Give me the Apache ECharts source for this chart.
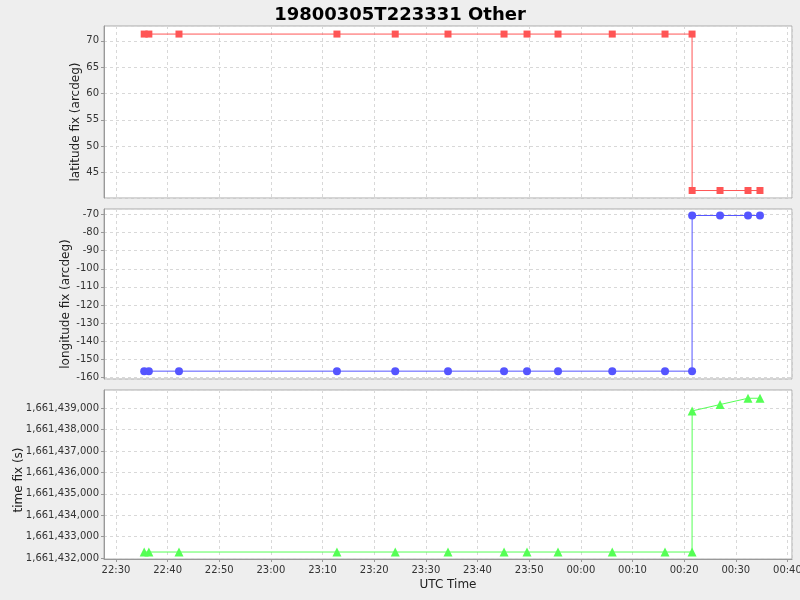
<!DOCTYPE html>
<html>
<head>
<meta charset="utf-8">
<script src="https://cdn.jsdelivr.net/npm/echarts@6/dist/echarts.min.js"></script>
<style>
html,body{margin:0;padding:0;background:#eeeeee;}
#chart{width:800px;height:600px;}
</style>
</head>
<body>
<div id="chart"></div>
<script>
const titleText = '19800305T223331 Other';
const utcTimes = [
  '1980-03-05T22:35:28Z','1980-03-05T22:36:22Z','1980-03-05T22:42:12Z','1980-03-05T23:12:47Z',
  '1980-03-05T23:24:04Z','1980-03-05T23:34:17Z','1980-03-05T23:45:08Z','1980-03-05T23:49:35Z',
  '1980-03-05T23:55:35Z','1980-03-06T00:06:05Z','1980-03-06T00:16:18Z','1980-03-06T00:21:32Z',
  '1980-03-06T00:21:33Z','1980-03-06T00:26:57Z','1980-03-06T00:32:22Z','1980-03-06T00:34:41Z'
];
const latitudeFix = [71.27,71.27,71.27,71.27,71.27,71.27,71.27,71.27,71.27,71.27,71.27,71.27,41.58,41.58,41.58,41.58];
const longitudeFix = [-156.6,-156.6,-156.6,-156.6,-156.6,-156.6,-156.6,-156.6,-156.6,-156.6,-156.6,-156.6,-70.5,-70.5,-70.5,-70.5];
const timeFix = [1661432279,1661432279,1661432279,1661432279,1661432279,1661432279,1661432279,1661432279,1661432279,1661432279,1661432279,1661432279,1661438874,1661439172,1661439466,1661439466];
const xRange = ['1980-03-05T22:27:41Z','1980-03-06T00:40:53Z'];
const latRange = [40.16, 72.80];
const lonRange = [-160.94, -66.91];
const timeRange = [1661431953, 1661439852];
const xAxisName = 'UTC Time';
const yNames = ['latitude fix (arcdeg)','longitude fix (arcdeg)','time fix (s)'];

const tms = utcTimes.map(s => Date.parse(s));
const pair = (arr) => tms.map((t, i) => [t, arr[i]]);
const pad = n => (n < 10 ? '0' : '') + n;
const fmtTime = v => { const d = new Date(v); return pad(d.getUTCHours()) + ':' + pad(d.getUTCMinutes()); };

const FONT = 'DejaVu Sans';
const gridLine = { show: true, lineStyle: { color: '#d8d8d8', type: [3, 3], width: 1 } };
const grids = [
  { left: 104, width: 688, top: 26, height: 172 },
  { left: 104, width: 688, top: 209, height: 170 },
  { left: 104, width: 688, top: 390, height: 169 }
].map(g => Object.assign(g, { show: true, containLabel: false, outerBoundsMode: 'none', backgroundColor: '#ffffff', borderColor: '#aaaaaa', borderWidth: 1 }));

function xAx(i) {
  const last = i === 2;
  return {
    type: 'value', gridIndex: i,
    min: Date.parse(xRange[0]), max: Date.parse(xRange[1]),
    minInterval: 600000, maxInterval: 600000,
    name: last ? xAxisName : '', nameLocation: 'middle', nameGap: 20, nameMoveOverlap: false,
    nameTextStyle: { fontFamily: FONT, fontSize: 12, color: '#222' },
    axisLine: { show: last, lineStyle: { color: '#999999' } },
    axisTick: { show: last, length: 3, inside: false, lineStyle: { color: '#999999' } },
    axisLabel: { show: last, formatter: fmtTime, fontFamily: FONT, fontSize: 10, color: '#333', margin: 6, showMinLabel: false, showMaxLabel: false },
    splitLine: gridLine
  };
}
function yAx(i, range, step, fmt, gap, shift) {
  return {
    type: 'value', gridIndex: i, min: range[0], max: range[1],
    minInterval: step, maxInterval: step,
    name: yNames[i], nameLocation: 'middle', nameGap: gap, nameMoveOverlap: false,
    nameTextStyle: { fontFamily: FONT, fontSize: 12, color: '#222', padding: [0, shift, 0, 0] },
    axisLine: { show: true, lineStyle: { color: '#999999' } },
    axisTick: { show: true, length: 3, lineStyle: { color: '#999999' } },
    axisLabel: { formatter: fmt, fontFamily: FONT, fontSize: 10, color: '#333', margin: 5, showMinLabel: false, showMaxLabel: false },
    splitLine: gridLine
  };
}
function ser(i, arr, color, symbol, size) {
  return {
    type: 'line', xAxisIndex: i, yAxisIndex: i, data: pair(arr),
    symbol: symbol, symbolSize: size, showAllSymbol: true,
    itemStyle: { color: color }, lineStyle: { color: color, width: 1 },
    emphasis: { disabled: true }
  };
}

const chart = echarts.init(document.getElementById('chart'), null, { renderer: 'canvas' });
chart.setOption({
  backgroundColor: '#eeeeee',
  animation: false,
  title: { text: titleText, left: 'center', top: 1, textStyle: { fontFamily: FONT, fontWeight: 'bold', fontSize: 18, color: '#000' } },
  grid: grids,
  xAxis: [xAx(0), xAx(1), xAx(2)],
  yAxis: [
    yAx(0, latRange, 5, v => String(v), 22, 20),
    yAx(1, lonRange, 10, v => String(v), 32, 20),
    yAx(2, timeRange, 1000, v => Number(v).toLocaleString('en-US'), 79, 11)
  ],
  series: [
    ser(0, latitudeFix, '#ff5555', 'rect', 7),
    ser(1, longitudeFix, '#5555ff', 'circle', 8),
    ser(2, timeFix, '#55ff55', 'triangle', 9)
  ]
});
</script>
</body>
</html>
